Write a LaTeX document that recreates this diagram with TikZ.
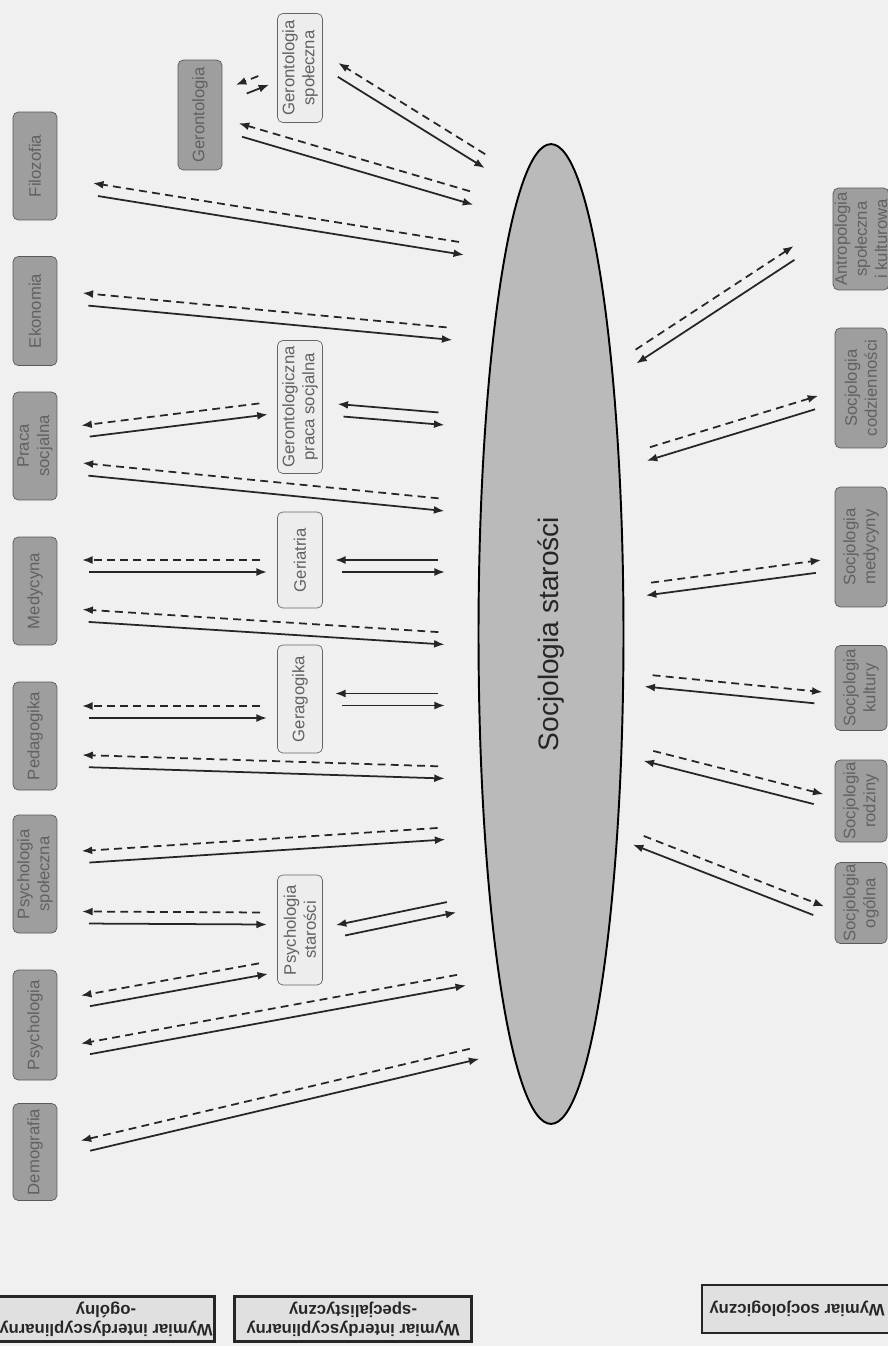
\documentclass[tikz,border=0pt]{standalone}
\usepackage{fontspec}
\setmainfont{Liberation Sans}
\usetikzlibrary{shapes.geometric,arrows.meta,calc}

\tikzstyle{box} = [rounded corners=3pt,rotate=90,align=center,inner sep=1pt,
  minimum height=0.88cm,font=\fontsize{9.5}{11.4}\selectfont]
\tikzstyle{darkbox} = [box,draw=black!65,fill=black!38,text=black!62]
\tikzstyle{lightbox} = [box,draw=black!60,fill=black!7,text=black!62,minimum height=0.9cm]
\tikzstyle{legend} = [draw=black!85,line width=1.4pt,fill=black!12,rotate=180,align=center,
  inner sep=1pt,minimum height=0.9cm,text=black!85,font=\bfseries\fontsize{9.5}{11}\selectfont]
\tikzstyle{link} = [line width=1pt,black!85,-{Latex[length=6pt,width=4.5pt]}]
\tikzstyle{back} = [link,dash pattern=on 4.5pt off 3pt,shorten <=4pt]
\tikzstyle{fore} = [link,shorten <=4pt]

% pair of lines: #1 style of the one back to a, #2 half gap, #3 end a, #4 end b
\newcommand{\twoway}[4][back]{
  \draw[#1] ($(#4)!#2!-90:(#3)$) -- ($(#3)!#2!90:(#4)$);
  \draw[fore] ($(#3)!#2!-90:(#4)$) -- ($(#4)!#2!90:(#3)$);
}

\begin{document}
\begin{tikzpicture}[x=0.02cm,y=-0.02cm]
	\useasboundingbox (0,0) rectangle (888,1346);
	\fill[black!6] (0,0) rectangle (888,1346);

	\node[ellipse,draw=black,line width=1.1pt,fill=black!27,rotate=90,minimum width=19.6cm,
	  minimum height=2.9cm,text=black!85,font=\fontsize{16}{19}\selectfont] (soc) at (551,634) {Socjologia starości};

	% general disciplines
	\node[darkbox,minimum width=2.16cm] (filo) at (35,166) {Filozofia};
	\node[darkbox,minimum width=2.18cm] (ekon) at (35,311) {Ekonomia};
	\node[darkbox,minimum width=2.16cm] (praca) at (35,446) {Praca\\socjalna};
	\node[darkbox,minimum width=2.16cm] (medy) at (35,591) {Medycyna};
	\node[darkbox,minimum width=2.16cm] (peda) at (35,736) {Pedagogika};
	\node[darkbox,minimum width=2.36cm] (psyspol) at (35,874) {Psychologia\\społeczna};
	\node[darkbox,minimum width=2.2cm] (psych) at (35,1025) {Psychologia};
	\node[darkbox,minimum width=1.94cm] (demo) at (35,1152) {Demografia};
	\node[darkbox,minimum width=2.2cm] (geron) at (200,115) {Gerontologia};

	% special disciplines
	\node[lightbox,minimum width=2.18cm] (gerspol) at (300,68) {Gerontologia\\społeczna};
	\node[lightbox,minimum width=2.66cm] (gerpraca) at (300,407) {Gerontologiczna\\praca socjalna};
	\node[lightbox,minimum width=1.92cm] (geri) at (300,560) {Geriatria};
	\node[lightbox,minimum width=2.16cm] (gera) at (300,699) {Geragogika};
	\node[lightbox,minimum width=2.2cm] (psystar) at (300,930) {Psychologia\\starości};

	% sociological
	\node[darkbox,minimum width=2.04cm,minimum height=1.04cm] (antro) at (861,239) {Antropologia\\społeczna\\i kulturowa};
	\node[darkbox,minimum width=2.4cm,minimum height=1.04cm] (codz) at (861,388) {Socjologia\\codzienności};
	\node[darkbox,minimum width=2.4cm,minimum height=1.04cm] (smed) at (861,547) {Socjologia\\medycyny};
	\node[darkbox,minimum width=1.7cm,minimum height=1.04cm] (kult) at (861,688) {Socjologia\\kultury};
	\node[darkbox,minimum width=1.64cm,minimum height=1.04cm] (rodz) at (861,801) {Socjologia\\rodziny};
	\node[darkbox,minimum width=1.62cm,minimum height=1.04cm] (ogol) at (861,903) {Socjologia\\ogólna};

	% legend
	\node[legend,minimum width=4.3cm] (lg1) at (106,1319) {Wymiar interdyscyplinarny\\-ogólny};
	\node[legend,minimum width=4.74cm] (lg2) at (353,1319) {Wymiar interdyscyplinarny\\-specjalistyczny};
	\node[legend,minimum width=3.8cm,minimum height=0.96cm] (lg3) at (797,1309) {Wymiar socjologiczny};

	% ends of the links
	\coordinate (g1a) at (238,90.5);  \coordinate (g1b) at (267,79);
	\coordinate (g2a) at (335,68);    \coordinate (g2b) at (488,163);
	\coordinate (g3a) at (237,129);   \coordinate (g3b) at (475,199);
	\coordinate (fia) at (92,189);    \coordinate (fib) at (465,249);
	\coordinate (eka) at (82,299);    \coordinate (ekb) at (453,334);
	\coordinate (pra) at (82,431.5);  \coordinate (prb) at (267,408.5);
	\coordinate (gpa) at (337,410);   \coordinate (gpb) at (445,419);
	\coordinate (pr2a) at (82,469);   \coordinate (pr2b) at (445,505);
	\coordinate (mea) at (82,566);    \coordinate (meb) at (267,566);
	\coordinate (gea) at (335,566);   \coordinate (geb) at (445,566);
	\coordinate (me2a) at (82,615.5); \coordinate (me2b) at (445,638.5);
	\coordinate (pea) at (82,712);    \coordinate (peb) at (267,712);
	\coordinate (gra) at (335,699.5); \coordinate (grb) at (445,699.5);
	\coordinate (pe2a) at (82,761);   \coordinate (pe2b) at (445,772.5);
	\coordinate (ps2a) at (82,857);   \coordinate (ps2b) at (445,833.5);
	\coordinate (psa) at (82,917.5);  \coordinate (psb) at (267,918.5);
	\coordinate (sta) at (337,931);   \coordinate (stb) at (455,906.5);
	\coordinate (pya) at (82,1001.5); \coordinate (pyb) at (267,968);
	\coordinate (py2a) at (82,1049.5);\coordinate (py2b) at (465,979.5);
	\coordinate (dea) at (82,1146.5); \coordinate (deb) at (478,1053);
	\coordinate (ana) at (797,251);   \coordinate (anb) at (633,358.5);
	\coordinate (coa) at (820,401.5); \coordinate (cob) at (645,455);
	\coordinate (sma) at (822,566);   \coordinate (smb) at (645,589.5);
	\coordinate (kua) at (822,698);   \coordinate (kub) at (645,680.5);
	\coordinate (roa) at (822,800);   \coordinate (rob) at (645,755);
	\coordinate (oga) at (822,912);   \coordinate (ogb) at (635,839);

	\twoway{0.12cm}{g1a}{g1b}
	\twoway{0.12cm}{g2a}{g2b}
	\twoway{0.12cm}{g3a}{g3b}
	\twoway{0.12cm}{fia}{fib}
	\twoway{0.12cm}{eka}{ekb}
	\twoway{0.12cm}{pra}{prb}
	\twoway[fore]{0.12cm}{gpa}{gpb}
	\twoway{0.12cm}{pr2a}{pr2b}
	\twoway{0.12cm}{mea}{meb}
	\twoway[fore]{0.12cm}{gea}{geb}
	\twoway{0.12cm}{me2a}{me2b}
	\twoway{0.12cm}{pea}{peb}
	\twoway[fore]{0.12cm}{gra}{grb}
	\twoway{0.12cm}{pe2a}{pe2b}
	\twoway{0.12cm}{ps2a}{ps2b}
	\twoway{0.12cm}{psa}{psb}
	\twoway[fore]{0.12cm}{sta}{stb}
	\twoway{0.12cm}{pya}{pyb}
	\twoway{0.12cm}{py2a}{py2b}
	\twoway{0.12cm}{dea}{deb}
	\twoway{-0.12cm}{ana}{anb}
	\twoway{-0.12cm}{coa}{cob}
	\twoway{-0.12cm}{sma}{smb}
	\twoway{-0.12cm}{kua}{kub}
	\twoway{-0.12cm}{roa}{rob}
	\twoway{-0.12cm}{oga}{ogb}
\end{tikzpicture}
\end{document}
